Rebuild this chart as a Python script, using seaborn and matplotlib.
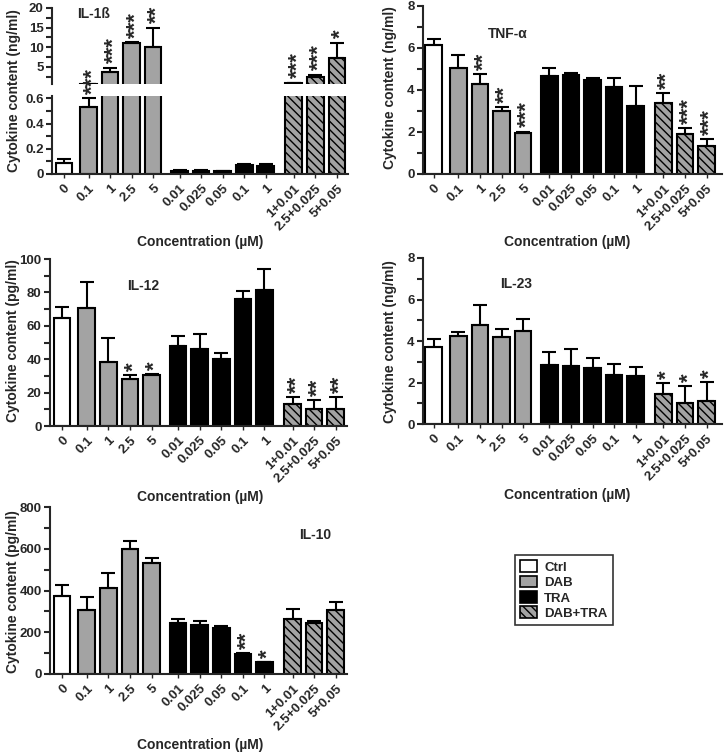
import numpy as np
import pandas as pd
import matplotlib
matplotlib.use("Agg")
import matplotlib.pyplot as plt
import seaborn as sns
from matplotlib.patches import Patch, Rectangle
from matplotlib.ticker import MultipleLocator, FuncFormatter

# --- data ---
conc_labels = ["0", "0.1", "1", "2.5", "5",
               "0.01", "0.025", "0.05", "0.1", "1",
               "1+0.01", "2.5+0.025", "5+0.05"]
groups = ["Ctrl"] + ["DAB"] * 4 + ["TRA"] * 5 + ["DAB+TRA"] * 3
group_order = ["Ctrl", "DAB", "TRA", "DAB+TRA"]

il1b_mean = [0.085, 0.53, 3.8, 11.1, 10.0, 0.027, 0.027, 0.022, 0.072, 0.064, 0.9, 2.3, 7.3]
il1b_err = [0.03, 0.07, 1.0, 0.2, 5.0, 0.003, 0.003, 0.003, 0.004, 0.016, 0.1, 0.7, 3.9]
il1b_sig = ["", "***", "***", "***", "**", "", "", "", "", "", "***", "***", "*"]

tnf_mean = [6.15, 5.05, 4.3, 3.0, 1.97, 4.68, 4.71, 4.5, 4.13, 3.24, 3.4, 1.89, 1.33]
tnf_err = [0.3, 0.6, 0.44, 0.19, 0.05, 0.35, 0.09, 0.05, 0.46, 0.96, 0.47, 0.31, 0.32]
tnf_sig = ["", "", "**", "**", "***", "", "", "", "", "", "**", "***", "***"]

il12_mean = [64.4, 70.8, 38.4, 28.4, 30.4, 48.0, 46.4, 40.2, 75.8, 81.6, 13.4, 10.0, 10.0]
il12_err = [6.8, 15.2, 14.0, 2.0, 0.8, 6.0, 8.8, 3.8, 4.8, 12.4, 3.8, 5.6, 7.4]
il12_sig = ["", "", "", "*", "*", "", "", "", "", "", "**", "**", "**"]

il23_mean = [3.69, 4.25, 4.78, 4.17, 4.49, 2.85, 2.8, 2.69, 2.37, 2.29, 1.45, 1.0, 1.13]
il23_err = [0.4, 0.16, 0.97, 0.42, 0.57, 0.64, 0.8, 0.48, 0.53, 0.48, 0.51, 0.84, 0.88]
il23_sig = ["", "", "", "", "", "", "", "", "", "", "*", "*", "*"]

il10_mean = [375, 307, 410, 597, 530, 243, 233, 222, 94, 56, 265, 246, 307]
il10_err = [51, 60, 72, 42, 24, 19, 23, 10, 5, 3, 47, 10, 36]
il10_sig = ["", "", "", "", "", "", "", "", "**", "*", "", "", ""]

palette = {"Ctrl": "white", "DAB": "#a3a3a3", "TRA": "black", "DAB+TRA": "#a3a3a3"}
hatch = "\\\\\\\\"

# --- layout helpers ---
W, H = 724, 753
group_gap = {"Ctrl": 0.0, "DAB": 0.15, "TRA": 0.23, "DAB+TRA": 0.3}
positions = []
x = -1.0
for i, g in enumerate(groups):
    x += 1.0
    if i > 0 and g != groups[i - 1]:
        x += group_gap[g]
    positions.append(x)
positions = np.array(positions)

sns.set_style("ticks")
plt.rcParams["font.family"] = ["Liberation Sans", "DejaVu Sans"]
plt.rcParams["font.weight"] = "bold"
plt.rcParams["axes.linewidth"] = 1.5
plt.rcParams["hatch.linewidth"] = 1.0

fig = plt.figure(figsize=(W / 100, H / 100), dpi=100)


def rect(l, t, r, b):
    return [l / W, 1 - b / H, (r - l) / W, (b - t) / H]


def ftext(px, py, s, **kw):
    fig.text(px / W, 1 - py / H, s, fontweight="bold", **kw)


def bars(ax, mean, err):
    df = pd.DataFrame({"pos": positions, "value": mean, "group": groups})
    sns.barplot(data=df, x="pos", y="value", hue="group", hue_order=group_order,
                palette=palette, native_scale=True, dodge=False, width=0.77,
                edgecolor="black", linewidth=1.5, errorbar=None, legend=False, ax=ax)
    for p in ax.patches:
        if p.get_x() + p.get_width() / 2 > positions[-3] - 0.5:
            p.set_hatch(hatch)
    ax.errorbar(positions, mean, yerr=[np.zeros(len(mean)), err], fmt="none",
                ecolor="black", elinewidth=1.5, capsize=5, capthick=1.5, zorder=3)
    ax.set_xlabel("")
    ax.set_ylabel("")
    ax.set_facecolor("none")


def style(ax, xlim, ylim, major, minor, show_x=True):
    ax.set_xlim(*xlim)
    ax.set_ylim(*ylim)
    ax.yaxis.set_major_locator(MultipleLocator(major))
    ax.yaxis.set_minor_locator(MultipleLocator(minor))
    ax.yaxis.set_major_formatter(FuncFormatter(lambda v, _: f"{v:g}"))
    ax.tick_params(axis="y", which="both", length=4, width=1.5, labelsize=9.5, pad=2)
    sns.despine(ax=ax)
    if show_x:
        ax.set_xticks(positions)
        ax.set_xticklabels(conc_labels, rotation=45, ha="right", rotation_mode="anchor",
                           fontsize=9.5, fontweight="bold")
        ax.tick_params(axis="x", length=3, width=1, pad=3)
    else:
        ax.spines["bottom"].set_visible(False)
        ax.set_xticks([])


def stars(ax, mean, err, sig, keep=None):
    for i, s in enumerate(sig):
        if not s or (keep is not None and not keep(mean[i] + err[i])):
            continue
        ax.annotate(s, xy=(positions[i], mean[i] + err[i]), xytext=(3, 3),
                    textcoords="offset points", rotation=90, ha="center", va="bottom",
                    fontsize=16, fontweight="bold", annotation_clip=False, zorder=4)


xlim_left = (-0.55, 13.2)
xlim_right = (-0.5, 13.4)

# IL-1ß (broken axis): upper part drawn first, lower part on top of it
ax_hi = fig.add_axes(rect(52, 8, 348, 84))
ax_lo = fig.add_axes(rect(52, 96, 348, 174))
bars(ax_hi, il1b_mean, il1b_err)
bars(ax_lo, il1b_mean, il1b_err)
style(ax_hi, xlim_left, (0.62, 20), 5, 2.5, show_x=False)
style(ax_lo, xlim_left, (0, 0.618), 0.2, 0.1)
# white band for the axis break
ax_lo.add_patch(Rectangle((0.01, 1.0), 0.99, 12 / 78, transform=ax_lo.transAxes,
                          facecolor="white", edgecolor="none", clip_on=False, zorder=3.5))
stars(ax_lo, il1b_mean, il1b_err, il1b_sig, keep=lambda v: v <= 0.618)
stars(ax_hi, il1b_mean, il1b_err, il1b_sig, keep=lambda v: v > 0.618)
ftext(94, 14, "IL-1ß", ha="center", va="center", fontsize=10)
ftext(14, 91, "Cytokine content (ng/ml)", rotation=90, ha="center", va="center", fontsize=10)
ftext(200, 242, "Concentration (µM)", ha="center", va="center", fontsize=10)

# TNF-a
ax = fig.add_axes(rect(423, 6, 722, 174))
bars(ax, tnf_mean, tnf_err)
style(ax, xlim_right, (0, 8), 2, 1)
stars(ax, tnf_mean, tnf_err, tnf_sig)
ftext(508, 34, "TNF-α", ha="center", va="center", fontsize=10)
ftext(390, 88, "Cytokine content (ng/ml)", rotation=90, ha="center", va="center", fontsize=10)
ftext(567, 242, "Concentration (µM)", ha="center", va="center", fontsize=10)

# IL-12
ax = fig.add_axes(rect(50, 259, 347, 426))
bars(ax, il12_mean, il12_err)
style(ax, xlim_left, (0, 100), 20, 10)
stars(ax, il12_mean, il12_err, il12_sig)
ftext(143, 286, "IL-12", ha="center", va="center", fontsize=10)
ftext(13, 341, "Cytokine content (pg/ml)", rotation=90, ha="center", va="center", fontsize=10)
ftext(200, 497, "Concentration (µM)", ha="center", va="center", fontsize=10)

# IL-23
ax = fig.add_axes(rect(423, 258, 722, 424))
bars(ax, il23_mean, il23_err)
style(ax, xlim_right, (0, 8), 2, 1)
stars(ax, il23_mean, il23_err, il23_sig)
ftext(516, 284, "IL-23", ha="center", va="center", fontsize=10)
ftext(390, 342, "Cytokine content (ng/ml)", rotation=90, ha="center", va="center", fontsize=10)
ftext(567, 495, "Concentration (µM)", ha="center", va="center", fontsize=10)

# IL-10
ax = fig.add_axes(rect(50, 507, 347, 674))
bars(ax, il10_mean, il10_err)
style(ax, xlim_left, (0, 800), 200, 100)
stars(ax, il10_mean, il10_err, il10_sig)
ftext(315, 535, "IL-10", ha="center", va="center", fontsize=10)
ftext(13, 592, "Cytokine content (pg/ml)", rotation=90, ha="center", va="center", fontsize=10)
ftext(200, 745, "Concentration (µM)", ha="center", va="center", fontsize=10)

# legend
handles = [Patch(facecolor=palette[g], edgecolor="black", linewidth=1.2,
                 hatch=hatch if g == "DAB+TRA" else None) for g in group_order]
leg = fig.legend(handles, group_order, loc="upper left",
                 bbox_to_anchor=(515 / W, 1 - 555 / H),
                 prop={"weight": "bold", "size": 9.5}, frameon=True, fancybox=False,
                 handlelength=1.3, handleheight=1.0, handletextpad=0.5,
                 labelspacing=0.15, borderpad=0.4, borderaxespad=0)
leg.get_frame().set_edgecolor("black")
leg.get_frame().set_linewidth(1.2)

fig.savefig("out.png", dpi=100)
